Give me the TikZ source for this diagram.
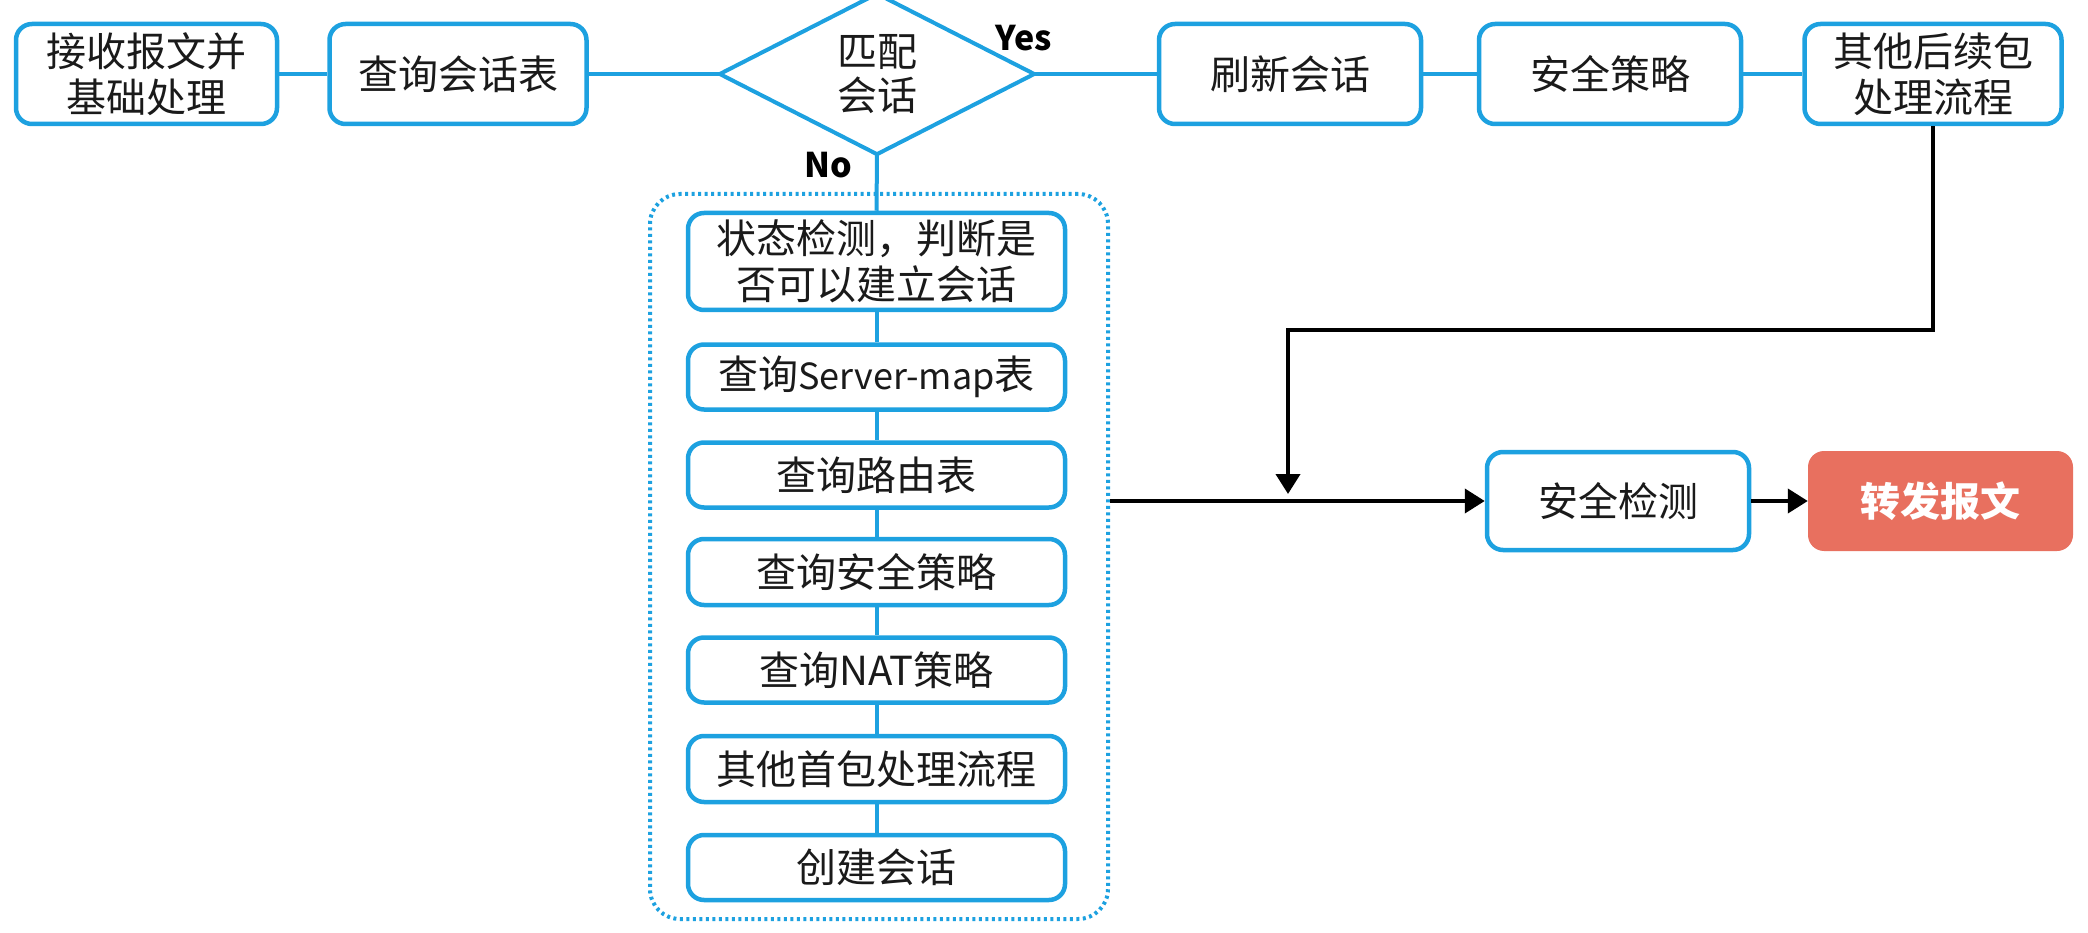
\documentclass[tikz,border=0pt]{standalone}
\usepackage{fontspec}
\setmainfont{Noto Sans CJK SC}
\usetikzlibrary{arrows.meta}
\definecolor{lineblue}{HTML}{1DA1E0}
\definecolor{salmon}{HTML}{E8705F}
\definecolor{txt}{HTML}{1A1A1A}
\begin{document}
\begin{tikzpicture}[x=1pt,y=-1pt,
  box/.style={draw=lineblue, line width=4.5pt, rounded corners=16pt, fill=white, text=txt, align=center, inner sep=0pt, font=\fontsize{40}{46}\selectfont},
  blink/.style={draw=lineblue, line width=4pt},
  blk/.style={draw=black, line width=4pt, -{Triangle[length=20pt,width=24pt]}},
  lbl/.style={font=\fontsize{34}{40}\selectfont\bfseries, text=black, inner sep=0pt},
  grpbox/.style={draw=lineblue, line width=4pt, dash pattern=on 3pt off 3.5pt, rounded corners=30pt},
  fwdbox/.style={fill=salmon, rounded corners=16pt, text=white, inner sep=0pt, font=\fontsize{40}{46}\selectfont\bfseries}
]
\useasboundingbox (0,0) rectangle (2088,933);
% top row
\node[box, minimum width=261pt, minimum height=100pt] (recv) at (146.5,74) {接收报文并\\基础处理};
\node[box, minimum width=257pt, minimum height=100pt] (query) at (458,74) {查询会话表};
\node[minimum width=314pt, minimum height=160pt, inner sep=0pt, align=center, text=txt, font=\fontsize{40}{44}\selectfont] (match) at (877,74) {匹配\\会话};
\draw[blink] (match.west) -- (match.north) -- (match.east) -- (match.south) -- cycle;
\node[box, minimum width=262pt, minimum height=100pt] (refresh) at (1290,74) {刷新会话};
\node[box, minimum width=262pt, minimum height=100pt] (policy) at (1610,74) {安全策略};
\node[box, minimum width=257pt, minimum height=100pt] (other) at (1933,74) {其他后续包\\处理流程};
\node[lbl] (yes) at (1024,38) {Yes};
\node[lbl] (no) at (828,165) {No};
\draw[blink] (recv.east) -- (query.west);
\draw[blink] (query.east) -- (match.west);
\draw[blink] (match.east) -- (refresh.west);
\draw[blink] (refresh.east) -- (policy.west);
\draw[blink] (policy.east) -- (other.west);
% group
\node[grpbox, minimum width=458pt, minimum height=725pt] (grp) at (879,556.5) {};
\node[box, minimum width=377pt, minimum height=97pt] (s1) at (876.5,261.5) {状态检测，判断是\\否可以建立会话};
\node[box, minimum width=377pt, minimum height=65pt] (s2) at (876.5,377) {查询{\fontsize{36}{46}\selectfont Server-map}表};
\node[box, minimum width=377pt, minimum height=65pt] (s3) at (876.5,475) {查询路由表};
\node[box, minimum width=377pt, minimum height=66pt] (s4) at (876.5,572) {查询安全策略};
\node[box, minimum width=377pt, minimum height=65pt] (s5) at (876.5,670) {查询NAT策略};
\node[box, minimum width=377pt, minimum height=66pt] (s6) at (876.5,769) {其他首包处理流程};
\node[box, minimum width=377pt, minimum height=65pt] (s7) at (876.5,867.5) {创建会话};
\draw[blink] (match.south) -- (s1.north);
\draw[blink] (s1.south) -- (s2.north);
\draw[blink] (s2.south) -- (s3.north);
\draw[blink] (s3.south) -- (s4.north);
\draw[blink] (s4.south) -- (s5.north);
\draw[blink] (s5.south) -- (s6.north);
\draw[blink] (s6.south) -- (s7.north);
% right part
\node[box, minimum width=262pt, minimum height=98pt] (sec) at (1618,501) {安全检测};
\node[fwdbox, minimum width=265pt, minimum height=100pt] (fwd) at (1940.5,501) {转发报文};
\draw[blk] (grp.east |- sec.west) -- (sec.west);
\draw[blk] (sec.east) -- (fwd.west);
\coordinate (bend) at (1288,330);
\coordinate (mergept) at (1288,494);
\draw[blk] (other.south) |- (bend) -- (mergept);
\end{tikzpicture}
\end{document}
